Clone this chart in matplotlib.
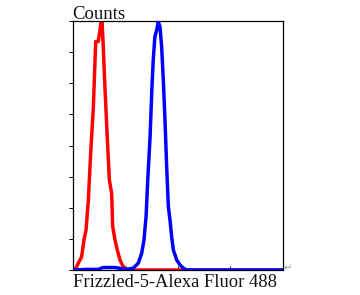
import matplotlib.pyplot as plt

# channel values (arbitrary linear scale, 0-1000) and counts
red_x = [0, 14, 25, 41, 52, 62, 73, 84, 97, 108, 120, 129, 137, 144, 152, 163,
         173, 184, 189, 200, 211, 224, 240, 256, 300, 400, 500, 600, 800, 1000]
red_y = [0, 3, 11, 21, 48, 64, 112, 187, 262, 367, 367, 386, 410, 359, 294, 214,
         145, 123, 70, 48, 32, 16, 5, 1, 0, 0, 0, 0, 0, 0]

blue_x = [0, 60, 120, 143, 170, 200, 238, 256, 287, 311, 327, 338, 348, 356, 367,
          376, 382, 390, 399, 406, 414, 422, 430, 438, 446, 454, 462, 470, 478,
          494, 510, 525, 541, 600, 800, 1000]
blue_y = [0, 1, 1, 4, 4, 4, 2, 1, 3, 11, 27, 48, 86, 145, 214,
          294, 337, 375, 386, 399, 391, 359, 305, 241, 166, 102, 80, 53, 32,
          16, 8, 3, 0, 0, 0, 0]

y_ticks = [0, 50, 100, 150, 200, 250, 300, 350, 400]
x_ticks = [0, 250, 500, 750, 1000]

fig = plt.figure(figsize=(3.6, 2.95), dpi=100)
ax = fig.add_axes([0.2028, 0.0847, 0.5833, 0.8441])

ax.plot(red_x, red_y, color='#ff0000', linewidth=2.5, zorder=2)
ax.plot(blue_x, blue_y, color='#0000ff', linewidth=2.5, zorder=3)

ax.set_xlim(0, 1000)
ax.set_ylim(0, 400)
ax.set_yticks(y_ticks)
ax.set_xticks(x_ticks)
ax.set_yticklabels([])
ax.set_xticklabels([])
ax.tick_params(axis='y', direction='out', length=3, width=0.7)
ax.tick_params(axis='x', direction='in', length=3, width=0.7)
for s in ax.spines.values():
    s.set_linewidth(0.9)
    s.set_color('black')

fig.text(0.2, 0.9356, 'Counts', family='Liberation Serif', fontsize=13.5,
         ha='left', va='baseline', color='#111111')
fig.text(0.202, 0.028, 'Frizzled-5-Alexa Fluor 488', family='Liberation Serif',
         fontsize=13.3, ha='left', va='baseline', color='#111111')
fig.text(0.788, 0.09, '\u21b5', fontsize=7, color='#999999', ha='left', va='center')

fig.savefig('out.png', dpi=100)
